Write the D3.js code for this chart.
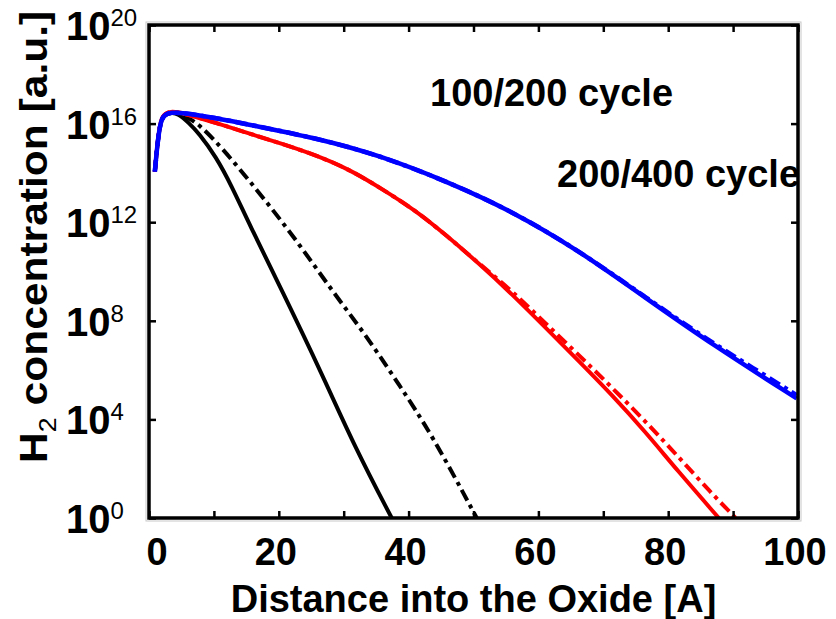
<!DOCTYPE html>
<html><head><meta charset="utf-8">
<script src="https://cdn.jsdelivr.net/npm/d3@7"></script>
<style>body{margin:0;background:#fff}svg{display:block}text{font-family:"Liberation Sans",Arial,sans-serif;font-weight:bold;fill:#000}</style>
</head><body><svg id="c" width="836" height="619"></svg>
<script>
// ---- data (concentration given as log10 exponent) ----
const xTicks = [0, 20, 40, 60, 80, 100];
const xMinorTicks = [0, 10, 20, 30, 40, 50, 60, 70, 80, 90, 100];
const yTickExps = [0, 4, 8, 12, 16, 20];
const xTitle = "Distance into the Oxide [A]";
const annot1 = "100/200 cycle";
const annot2 = "200/400 cycle";

const blackSolidX = [0.9, 1.3, 1.8, 2.5, 3.5, 4.5, 6.15, 7.7, 10.3, 12.8, 15.4, 20.5, 26.7, 31.8, 37.4];
const blackSolidE = [14.05, 15.2, 16.15, 16.38, 16.45, 16.4, 16.03, 15.6, 14.67, 13.44, 11.95, 9.22, 5.82, 2.83, 0];
const blackDashX = [0.9, 1.3, 1.8, 2.5, 3.5, 4.5, 6, 7.7, 10.2, 12.8, 17.9, 23.1, 28.2, 33.3, 38.5, 43.6, 50.5];
const blackDashE = [14.05, 15.2, 16.15, 16.38, 16.45, 16.42, 16.25, 15.96, 15.3, 14.53, 12.9, 11.13, 9.22, 7.46, 5.42, 3.38, 0];
const redSolidX = [0.9, 1.3, 1.8, 2.5, 3.5, 5.1, 10.3, 15.4, 20.5, 25.6, 30.8, 35.6, 41, 45.9, 50.8, 55.9, 61, 66.2, 71.3, 76.4, 81.5, 87.8];
const redSolidE = [14.05, 15.2, 16.2, 16.42, 16.5, 16.44, 16.03, 15.6, 15.18, 14.73, 14.15, 13.4, 12.49, 11.45, 10.33, 9.09, 7.75, 6.37, 5.0, 3.52, 1.9, 0];
const redDashX = [0.9, 1.3, 1.8, 2.5, 3.5, 5.1, 10.3, 15.4, 20.5, 25.6, 30.8, 35.6, 41, 45.9, 50.8, 56, 61, 66.2, 71.3, 76.4, 81.5, 86.5, 90.4];
const redDashE = [14.05, 15.2, 16.2, 16.42, 16.5, 16.44, 16.03, 15.6, 15.18, 14.73, 14.15, 13.4, 12.49, 11.45, 10.33, 9.2, 7.92, 6.62, 5.3, 3.95, 2.5, 1.05, 0];
const blueSolidX = [0.9, 1.3, 1.8, 2.5, 3.5, 5.1, 10.3, 15.4, 25.6, 35.4, 46.4, 55.9, 66.2, 76.4, 86.7, 99.8];
const blueSolidE = [14.05, 15.2, 16.15, 16.38, 16.45, 16.44, 16.23, 15.96, 15.42, 14.73, 13.6, 12.45, 10.86, 8.95, 7.05, 4.85];
const blueDashX = [0.9, 1.3, 1.8, 2.5, 3.5, 5.1, 10.3, 15.4, 25.6, 35.4, 46.4, 55.9, 66.2, 76.4, 86.7, 93, 99.8];
const blueDashE = [14.05, 15.2, 16.15, 16.38, 16.45, 16.44, 16.23, 15.96, 15.42, 14.73, 13.6, 12.45, 10.86, 8.97, 7.12, 6.1, 4.98];

// ---- layout ----
const L = 149, R = 798, T = 25, B = 518;
const svg = d3.select("#c");
svg.append("rect").attr("width", 836).attr("height", 619).attr("fill", "#fff");

const x = d3.scaleLinear().domain([0, 100]).range([L, R]);
const y = d3.scaleLog().domain([1, 1e20]).range([B, T]);

svg.append("clipPath").attr("id", "clip").append("rect")
  .attr("x", L).attr("y", T).attr("width", R - L).attr("height", B - T);

const line = d3.line().x(d => x(d[0])).y(d => y(Math.pow(10, d[1]))).curve(d3.curveBasis);
const zip = (a, b) => a.map((v, i) => [v, b[i]]);
const dashDot = "12,5,4,5";
const series = [
  { xs: blackDashX, es: blackDashE, color: "#000", dash: dashDot, w: 4 },
  { xs: blackSolidX, es: blackSolidE, color: "#000", dash: null, w: 4 },
  { xs: redDashX, es: redDashE, color: "#ff0000", dash: dashDot, w: 4 },
  { xs: redSolidX, es: redSolidE, color: "#ff0000", dash: null, w: 4 },
  { xs: blueDashX, es: blueDashE, color: "#0000ff", dash: dashDot, w: 4.5 },
  { xs: blueSolidX, es: blueSolidE, color: "#0000ff", dash: null, w: 4.5 }
];
const g = svg.append("g").attr("clip-path", "url(#clip)");
series.forEach(s => {
  g.append("path").datum(zip(s.xs, s.es)).attr("d", line)
    .attr("fill", "none").attr("stroke", s.color).attr("stroke-width", s.w)
    .attr("stroke-dasharray", s.dash).attr("stroke-linejoin", "round");
});

// frame
svg.append("rect").attr("x", L - 3).attr("y", T - 3).attr("width", R - L + 6).attr("height", B - T + 6)
  .attr("fill", "none").attr("stroke", "#c8c8c8").attr("stroke-width", 1);
svg.append("rect").attr("x", L).attr("y", T).attr("width", R - L).attr("height", B - T)
  .attr("fill", "none").attr("stroke", "#000").attr("stroke-width", 3.5);

// ticks (inward, all four sides)
const tk = 7;
svg.append("g").attr("transform", `translate(0,${B})`)
  .call(d3.axisBottom(x).tickValues(xMinorTicks).tickSize(-tk).tickFormat(""))
  .call(a => { a.select(".domain").remove(); a.selectAll("line").attr("stroke-width", 2.5); });
svg.append("g").attr("transform", `translate(0,${T})`)
  .call(d3.axisTop(x).tickValues(xMinorTicks).tickSize(-tk).tickFormat(""))
  .call(a => { a.select(".domain").remove(); a.selectAll("line").attr("stroke-width", 2.5); });
const yTickVals = yTickExps.map(e => Math.pow(10, e));
svg.append("g").attr("transform", `translate(${L},0)`)
  .call(d3.axisLeft(y).tickValues(yTickVals).tickSize(-tk).tickFormat(""))
  .call(a => { a.select(".domain").remove(); a.selectAll("line").attr("stroke-width", 2.5); });
svg.append("g").attr("transform", `translate(${R},0)`)
  .call(d3.axisRight(y).tickValues(yTickVals).tickSize(-tk).tickFormat(""))
  .call(a => { a.select(".domain").remove(); a.selectAll("line").attr("stroke-width", 2.5); });

// x tick labels
svg.append("g").selectAll("text").data(xTicks).join("text")
  .attr("x", d => x(d) + (d === 0 ? 8 : -3)).attr("y", 565)
  .attr("text-anchor", "middle").attr("font-size", 38).text(d => d);

// y tick labels 10^n
const yl = svg.append("g").selectAll("text").data(yTickExps).join("text")
  .attr("x", 66).attr("y", d => y(Math.pow(10, d)) + 15).attr("font-size", 40);
yl.append("tspan").text("10");
yl.append("tspan").attr("font-size", 24).attr("font-weight", "normal").attr("dy", -14).text(d => d);

// axis titles
svg.append("text").attr("x", (L + R) / 2).attr("y", 612).attr("text-anchor", "middle")
  .attr("font-size", 38).text(xTitle);
const yt = svg.append("text").attr("transform", "translate(47,463) rotate(-90) scale(1.12,1)")
  .attr("font-size", 38);
yt.append("tspan").text("H");
yt.append("tspan").attr("font-size", 24).attr("font-weight", "normal").attr("dy", 9).text("2");
yt.append("tspan").attr("dy", -9).text(" concentration [a.u.]");

// annotations
svg.append("text").attr("x", 430).attr("y", 106).attr("font-size", 38).text(annot1);
svg.append("text").attr("x", 557).attr("y", 187).attr("font-size", 38).text(annot2);
</script></body></html>
